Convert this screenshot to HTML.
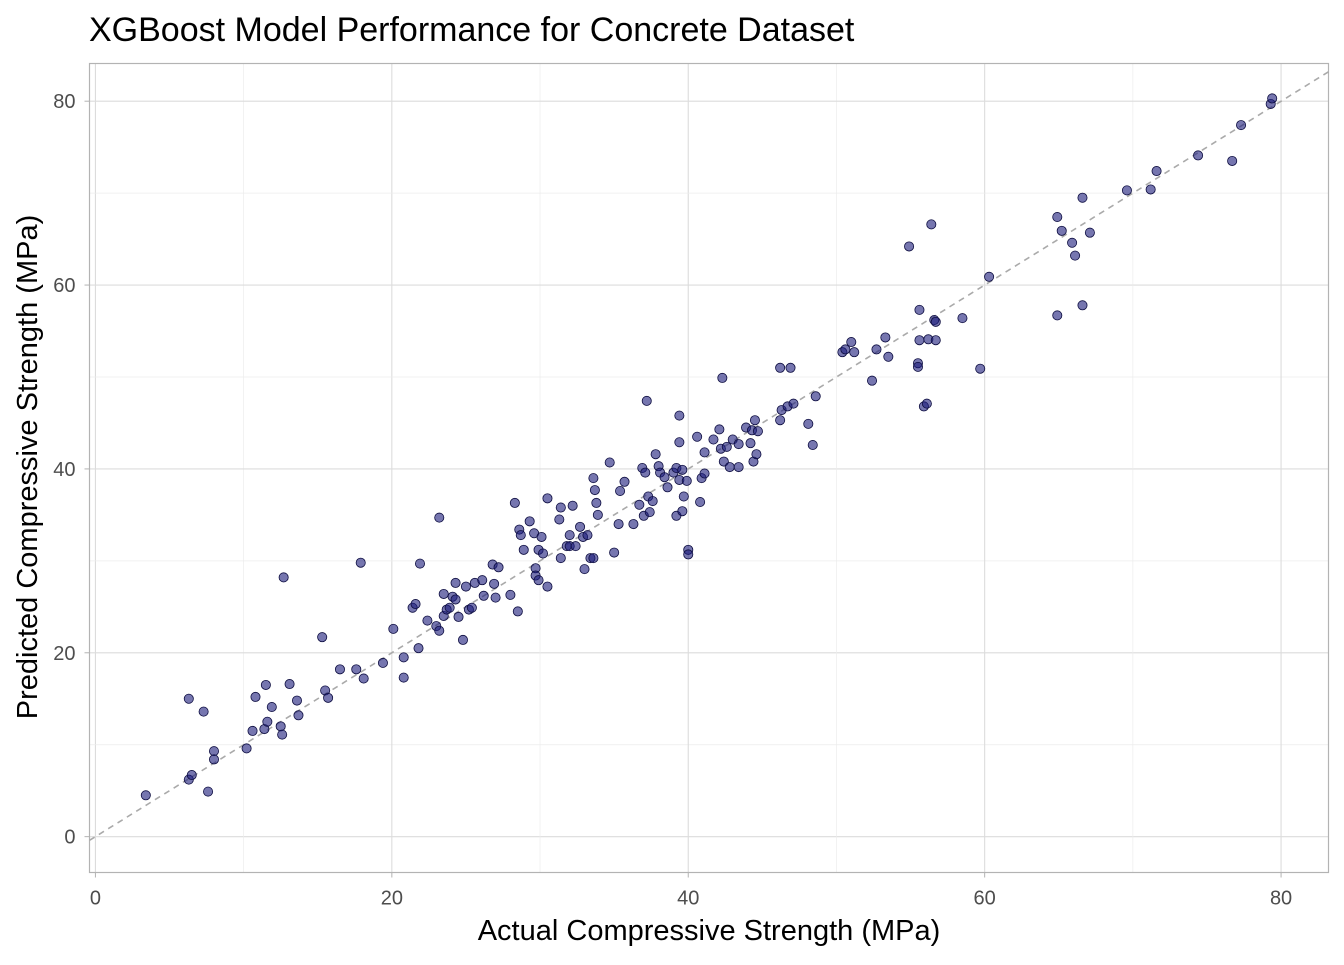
<!DOCTYPE html>
<html><head><meta charset="utf-8"><style>
body{margin:0;background:#fff;font-family:"Liberation Sans",sans-serif}
svg text{font-family:"Liberation Sans",sans-serif}
</style></head><body>
<svg id="chart" width="1344" height="960" xmlns="http://www.w3.org/2000/svg">
<rect width="1344" height="960" fill="#fff"/>
<text x="89" y="41" font-size="34" fill="#000">XGBoost Model Performance for Concrete Dataset</text>
<g id="grid"></g><g id="ticks"></g>
<rect x="89.5" y="63.5" width="1239" height="809" fill="none" stroke="#b3b3b3" stroke-width="1.2"/>
<g id="marks"></g>
<text x="709" y="940" font-size="29" text-anchor="middle" fill="#000">Actual Compressive Strength (MPa)</text>
<text transform="translate(37,467) rotate(-90)" font-size="29" text-anchor="middle" fill="#000">Predicted Compressive Strength (MPa)</text>
</svg>
<script>
const actual=[3.4,6.3,6.3,6.5,7.3,7.6,8.0,8.0,10.2,10.6,10.8,11.5,11.4,11.6,11.9,12.5,12.6,12.7,13.1,13.6,13.7,15.3,15.5,15.7,16.5,17.6,17.9,18.1,19.4,20.1,20.8,20.8,21.4,21.6,21.9,21.8,22.4,23.0,23.2,23.2,23.5,23.5,23.7,23.9,24.1,24.3,24.3,24.5,24.8,25.0,25.2,25.4,25.6,26.1,26.2,26.8,26.9,27.0,27.2,28.0,28.3,28.5,28.6,28.7,28.9,29.3,29.6,29.7,29.7,29.9,29.9,30.1,30.2,30.5,30.5,31.3,31.4,31.4,31.8,32.0,32.0,32.2,32.4,32.7,32.9,33.0,33.2,33.4,33.6,33.6,33.8,33.7,33.9,34.7,35.0,35.3,35.4,35.7,36.3,36.7,36.9,37.0,37.1,37.2,37.3,37.4,37.6,37.8,38.0,38.1,38.4,38.6,39.0,39.2,39.2,39.4,39.4,39.4,39.6,39.6,39.7,39.9,40.0,40.0,40.6,40.8,40.9,41.1,41.1,41.7,42.1,42.2,42.3,42.4,42.6,42.8,43.0,43.4,43.4,43.9,44.2,44.3,44.4,44.5,44.6,44.7,46.2,46.2,46.3,46.7,46.9,47.1,48.1,48.4,48.6,50.4,50.6,51.0,51.2,52.4,52.7,53.3,53.5,54.9,55.5,55.5,55.6,55.6,55.9,56.1,56.2,56.4,56.6,56.7,56.7,58.5,59.7,60.3,64.9,64.9,65.2,65.9,66.1,66.6,66.6,67.1,69.6,71.2,71.6,74.4,76.7,77.3,79.3,79.4];
const predicted=[4.5,15.0,6.2,6.7,13.6,4.9,9.3,8.4,9.6,11.5,15.2,16.5,11.7,12.5,14.1,12.0,11.1,28.2,16.6,14.8,13.2,21.7,15.9,15.1,18.2,18.2,29.8,17.2,18.9,22.6,17.3,19.5,24.9,25.3,29.7,20.5,23.5,22.9,22.4,34.7,26.4,24.0,24.7,24.9,26.1,27.6,25.8,23.9,21.4,27.2,24.7,24.9,27.6,27.9,26.2,29.6,27.5,26.0,29.3,26.3,36.3,24.5,33.4,32.8,31.2,34.3,33.0,29.2,28.4,27.9,31.2,32.6,30.8,27.2,36.8,34.5,35.8,30.3,31.6,31.6,32.8,36.0,31.6,33.7,32.6,29.1,32.8,30.3,39.0,30.3,36.3,37.7,35.0,40.7,30.9,34.0,37.6,38.6,34.0,36.1,40.1,34.9,39.6,47.4,37.0,35.3,36.5,41.6,40.3,39.6,39.1,38.0,39.6,40.1,34.9,45.8,42.9,38.8,39.9,35.4,37.0,38.7,31.2,30.7,43.5,36.4,39.0,41.8,39.5,43.2,44.3,42.2,49.9,40.8,42.4,40.2,43.2,42.7,40.2,44.5,42.8,44.2,40.8,45.3,41.6,44.1,51.0,45.3,46.4,46.8,51.0,47.1,44.9,42.6,47.9,52.7,53.0,53.8,52.7,49.6,53.0,54.3,52.2,64.2,51.5,51.1,57.3,54.0,46.8,47.1,54.1,66.6,56.2,56.0,54.0,56.4,50.9,60.9,56.7,67.4,65.9,64.6,63.2,57.8,69.5,65.7,70.3,70.4,72.4,74.1,73.5,77.4,79.7,80.3];
const xTicks=[0,20,40,60,80], yTicks=[0,20,40,60,80];
const X0=89.5,X1=1328.5,Y0=63.5,Y1=872.5;
const xmin=-0.4,xmax=83.2,ymin=-3.9,ymax=84.1;
const sx=v=>X0+(v-xmin)/(xmax-xmin)*(X1-X0);
const sy=v=>Y1-(v-ymin)/(ymax-ymin)*(Y1-Y0);
const NS="http://www.w3.org/2000/svg";
function mk(t,a,p){const e=document.createElementNS(NS,t);for(const k in a)e.setAttribute(k,a[k]);p.appendChild(e);return e;}
const grid=document.getElementById('grid'),ticks=document.getElementById('ticks'),marks=document.getElementById('marks');
for(let v=0;v<=80;v+=10){
 const major=v%20===0;
 const gx=mk('line',{x1:sx(v),x2:sx(v),y1:Y0,y2:Y1,stroke:major?'#dcdcdc':'#ececec','stroke-width':major?1.1:0.7},grid);
 
 
 const gy=mk('line',{x1:X0,x2:X1,y1:sy(v),y2:sy(v),stroke:major?'#dcdcdc':'#ececec','stroke-width':major?1.1:0.7},grid);
 
 
}
xTicks.forEach(v=>{
 mk('line',{x1:sx(v),x2:sx(v),y1:Y1,y2:Y1+5,stroke:'#b3b3b3'},ticks);
 const t=mk('text',{x:sx(v),y:Y1+32,'font-size':20,'text-anchor':'middle',fill:'#4d4d4d'},ticks);
 t.textContent=v;
 
 
});
yTicks.forEach(v=>{
 mk('line',{x1:X0-5,x2:X0,y1:sy(v),y2:sy(v),stroke:'#b3b3b3'},ticks);
 const t=mk('text',{x:X0-14,y:sy(v)+7,'font-size':20,'text-anchor':'end',fill:'#4d4d4d'},ticks);
 t.textContent=v;
 
 
});
const ref=mk('line',{x1:sx(xmin),y1:sy(xmin),x2:sx(83.2),y2:sy(83.2),stroke:'#aaaaaa','stroke-width':1.6,'stroke-dasharray':'6,5'},marks);


actual.forEach((a,i)=>{
 const c=mk('circle',{cx:sx(a),cy:sy(predicted[i]),r:4.6,fill:'#1a1a7a','fill-opacity':0.6,stroke:'#0d0d40','stroke-width':0.8},marks);
 
 
});
</script>
</body></html>
